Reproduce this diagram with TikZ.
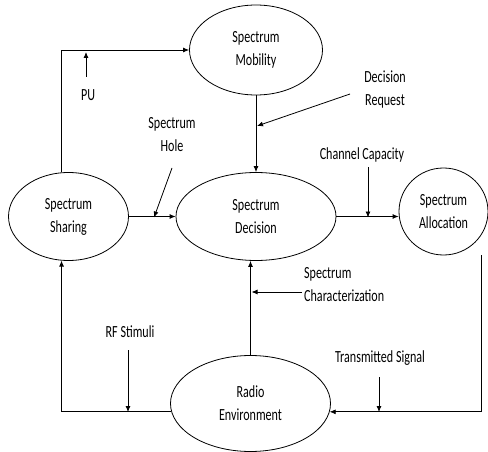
\documentclass[tikz,border=0pt]{standalone}
\usepackage{fontspec}
\setmainfont{Carlito}[FakeStretch=0.71]
\usetikzlibrary{shapes.geometric,arrows.meta}
\tikzset{
  state/.style={ellipse, draw, inner sep=0pt, align=center, line width=0.8pt},
  lbl/.style={align=center, inner sep=0pt},
  flow/.style={-{Latex[length=6pt,width=5pt]}, line width=0.8pt},
}
\begin{document}
\begin{tikzpicture}[x=1pt,y=-1pt,font=\fontsize{17}{23}\selectfont]
      \useasboundingbox (0,0) rectangle (488,452);
      \draw
        (256,50) node[state, minimum width=133pt, minimum height=90pt] (mobility){Spectrum\\Mobility}
        (68.5,216.5) node[state, minimum width=120pt, minimum height=88pt] (sharing){Spectrum\\Sharing}
        (256,216.5) node[state, minimum width=160pt, minimum height=88pt] (decision){Spectrum\\Decision}
        (443.5,211.5) node[state, minimum width=89pt, minimum height=87pt] (allocation){Spectrum\\Allocation}
        (250.5,403.5) node[state, minimum width=160pt, minimum height=96pt] (radio){Radio\\Environment};
      \draw
        (88,95) node[lbl] (pu){PU}
        (172,135) node[lbl] (hole){Spectrum\\Hole}
        (385,90) node[lbl] (request){Decision\\Request}
        (362,155) node[lbl] (capacity){Channel Capacity}
        (304,285) node[lbl, anchor=west, align=left] (character){Spectrum\\Characterization}
        (130,332) node[lbl] (stimuli){RF Stimuli}
        (380,358) node[lbl] (signal){Transmitted Signal};
      % ends of the input arrows
      \coordinate (pu-from) at (86,77);
      \coordinate (pu-to) at (86,52);
      \coordinate (request-from) at (350,94);
      \coordinate (request-to) at (257,126);
      \coordinate (hole-from) at (172,168);
      \coordinate (hole-to) at (154,217.5);
      \coordinate (capacity-from) at (368,167);
      \coordinate (capacity-to) at (368,217.5);
      \coordinate (character-from) at (302,292);
      \coordinate (character-to) at (251.5,292);
      \coordinate (stimuli-from) at (128,350);
      \coordinate (stimuli-to) at (128,412);
      \coordinate (signal-from) at (379,377);
      \coordinate (signal-to) at (379,412);
      \coordinate (alloc-out) at (481,255);
      \begin{scope}[flow]
        \draw (sharing.99) |- (mobility.west);
        \draw (mobility.south) to (decision.north);
        \draw (sharing.east) to (decision.west);
        \draw (decision.east) to (decision.east -| allocation.west);
        \draw (alloc-out) |- (radio.354);
        \draw (radio.186) -| (sharing.261);
        \draw (radio.north) to (radio.north |- decision.south);
        \draw (pu-from) to (pu-to);
        \draw (request-from) to (request-to);
        \draw (hole-from) to (hole-to);
        \draw (capacity-from) to (capacity-to);
        \draw (character-from) to (character-to);
        \draw (stimuli-from) to (stimuli-to);
        \draw (signal-from) to (signal-to);
      \end{scope}
    \end{tikzpicture}
\end{document}
